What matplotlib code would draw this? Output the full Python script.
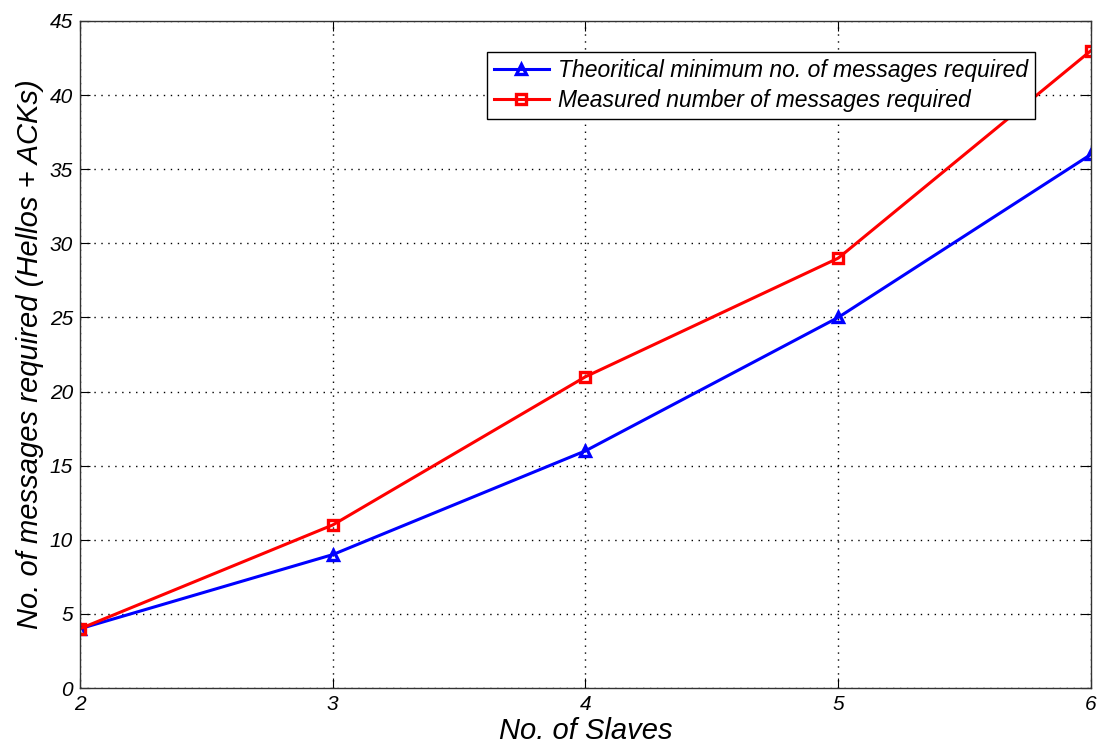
import matplotlib
matplotlib.use("Agg")
import matplotlib.pyplot as plt

slaves = [2, 3, 4, 5, 6]
theoretical_min = [4, 9, 16, 25, 36]
measured = [4, 11, 21, 29, 43]

plt.rcParams['font.family'] = ['Liberation Sans', 'DejaVu Sans']
plt.rcParams['font.style'] = 'italic'

fig = plt.figure(figsize=(10.97, 7.49), dpi=100)
ax = fig.add_axes([0.0729, 0.0814, 0.9216, 0.8906])

ax.plot(slaves, theoretical_min, color='#0000ff', linewidth=2.2, marker='^',
        markersize=7.5, markerfacecolor='none', markeredgewidth=2.4,
        label='Theoritical minimum no. of messages required')
ax.plot(slaves, measured, color='#ff0000', linewidth=2.2, marker='s',
        markersize=7.5, markerfacecolor='none', markeredgewidth=2.4,
        label='Measured number of messages required')

ax.set_xlim(2, 6)
ax.set_ylim(0, 45)
ax.set_xticks(slaves)
ax.set_yticks(range(0, 46, 5))
ax.grid(True, linestyle=(0, (1, 4)), color='black', linewidth=1.0)
ax.tick_params(direction='in', top=True, right=True, length=7,
               labelsize=15, pad=5)
for s in ax.spines.values():
    s.set_linewidth(1.0)
    s.set_color('#333333')

ax.set_xlabel('No. of Slaves', fontsize=21, labelpad=2)
ax.set_ylabel('No. of messages required (Hellos + ACKs)', fontsize=21, labelpad=4)

leg = ax.legend(loc='upper right', bbox_to_anchor=(0.9435, 0.9306),
                bbox_transform=fig.transFigure, fontsize=16.5, fancybox=False,
                framealpha=1, edgecolor='black', handlelength=2.4,
                borderpad=0.3, labelspacing=0.3, handletextpad=0.4,
                borderaxespad=0)
leg.get_frame().set_linewidth(1.0)

fig.savefig('out.png', dpi=100)
